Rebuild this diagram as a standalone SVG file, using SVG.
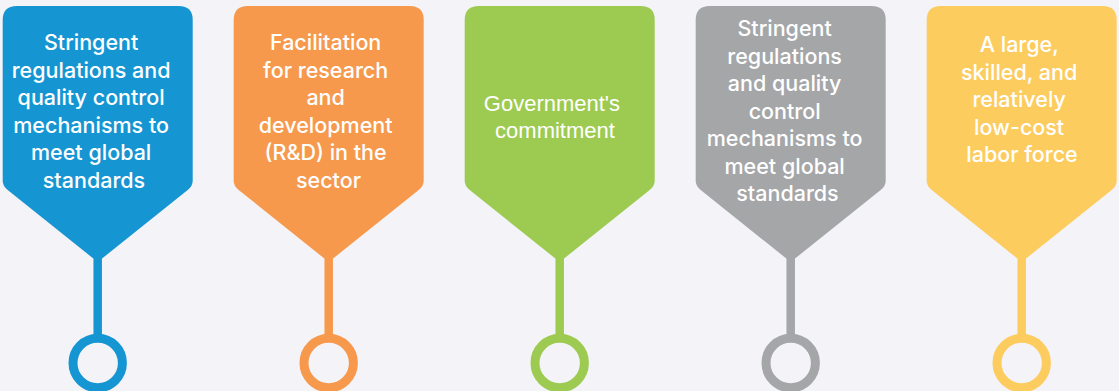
<svg xmlns="http://www.w3.org/2000/svg" xmlns:xlink="http://www.w3.org/1999/xlink" width="1119" height="391" viewBox="0 0 1119 391">
<style>
.t{font-family:Inter,"Liberation Sans",sans-serif;font-weight:500;font-size:21.5px;fill:#ffffff;text-anchor:middle}
.g{font-family:"Liberation Sans",Arial,sans-serif;font-size:22px;fill:#ffffff;text-anchor:middle}
.stem{stroke-width:8.5;fill:none}
.ring{stroke-width:9;fill:none}
.blue{fill:#1596D3}.orange{fill:#F6994C}.green{fill:#9DCB51}.gray{fill:#A4A6A8}.yellow{fill:#FDCC5F}
</style>
<defs>
<path id="tag" d="M -81,6 H 81 Q 95,6 95,20 V 181 Q 95,186 90,190 L 5,258 Q 0,262 -5,258 L -90,190 Q -95,186 -95,181 V 20 Q -95,6 -81,6 Z"/>
</defs>
<rect width="1119" height="391" fill="#F3F3F8"/>
<g id="connectors">
<line class="stem" x1="97.7" y1="255" x2="97.7" y2="336" stroke="#1596D3"/>
<line class="stem" x1="328.7" y1="255" x2="328.7" y2="336" stroke="#F6994C"/>
<line class="stem" x1="559.7" y1="255" x2="559.7" y2="336" stroke="#9DCB51"/>
<line class="stem" x1="790.7" y1="255" x2="790.7" y2="336" stroke="#A4A6A8"/>
<line class="stem" x1="1021.7" y1="255" x2="1021.7" y2="336" stroke="#FDCC5F"/>
<circle class="ring" cx="97.7" cy="363" r="24.7" stroke="#1596D3"/>
<circle class="ring" cx="328.7" cy="363" r="24.7" stroke="#F6994C"/>
<circle class="ring" cx="559.7" cy="363" r="24.7" stroke="#9DCB51"/>
<circle class="ring" cx="790.7" cy="363" r="24.7" stroke="#A4A6A8"/>
<circle class="ring" cx="1021.7" cy="363" r="24.7" stroke="#FDCC5F"/>
</g>
<g id="node1">
<use xlink:href="#tag" href="#tag" class="blue" transform="translate(97.7,0)"/>
<text class="t">
<tspan x="94" y="50">Stringent</tspan>
<tspan x="94" y="77.5">regulations and</tspan>
<tspan x="94" y="105">quality control</tspan>
<tspan x="94" y="132.5">mechanisms to</tspan>
<tspan x="94" y="160">meet global</tspan>
<tspan x="94" y="187.5">standards</tspan>
</text>
</g>
<g id="node2">
<use xlink:href="#tag" href="#tag" class="orange" transform="translate(328.7,0)"/>
<text class="t">
<tspan x="328.5" y="50">Facilitation</tspan>
<tspan x="328.5" y="77.5">for research</tspan>
<tspan x="328.5" y="105">and</tspan>
<tspan x="328.5" y="132.5">development</tspan>
<tspan x="328.5" y="160">(R&amp;D) in the</tspan>
<tspan x="328.5" y="187.5">sector</tspan>
</text>
</g>
<g id="node3">
<use xlink:href="#tag" href="#tag" class="green" transform="translate(559.7,0)"/>
<text class="g">
<tspan x="555" y="111">Government's</tspan>
<tspan x="555" y="138">commitment</tspan>
</text>
</g>
<g id="node4">
<use xlink:href="#tag" href="#tag" class="gray" transform="translate(790.7,0)"/>
<text class="t">
<tspan x="787.5" y="36">Stringent</tspan>
<tspan x="787.5" y="63.5">regulations</tspan>
<tspan x="787.5" y="91">and quality</tspan>
<tspan x="787.5" y="118.5">control</tspan>
<tspan x="787.5" y="146">mechanisms to</tspan>
<tspan x="787.5" y="173.5">meet global</tspan>
<tspan x="787.5" y="201">standards</tspan>
</text>
</g>
<g id="node5">
<use xlink:href="#tag" href="#tag" class="yellow" transform="translate(1021.7,0)"/>
<text class="t">
<tspan x="1022" y="52">A large,</tspan>
<tspan x="1022" y="79.5">skilled, and</tspan>
<tspan x="1022" y="107">relatively</tspan>
<tspan x="1022" y="134.5">low-cost</tspan>
<tspan x="1022" y="162">labor force</tspan>
</text>
</g>
</svg>
